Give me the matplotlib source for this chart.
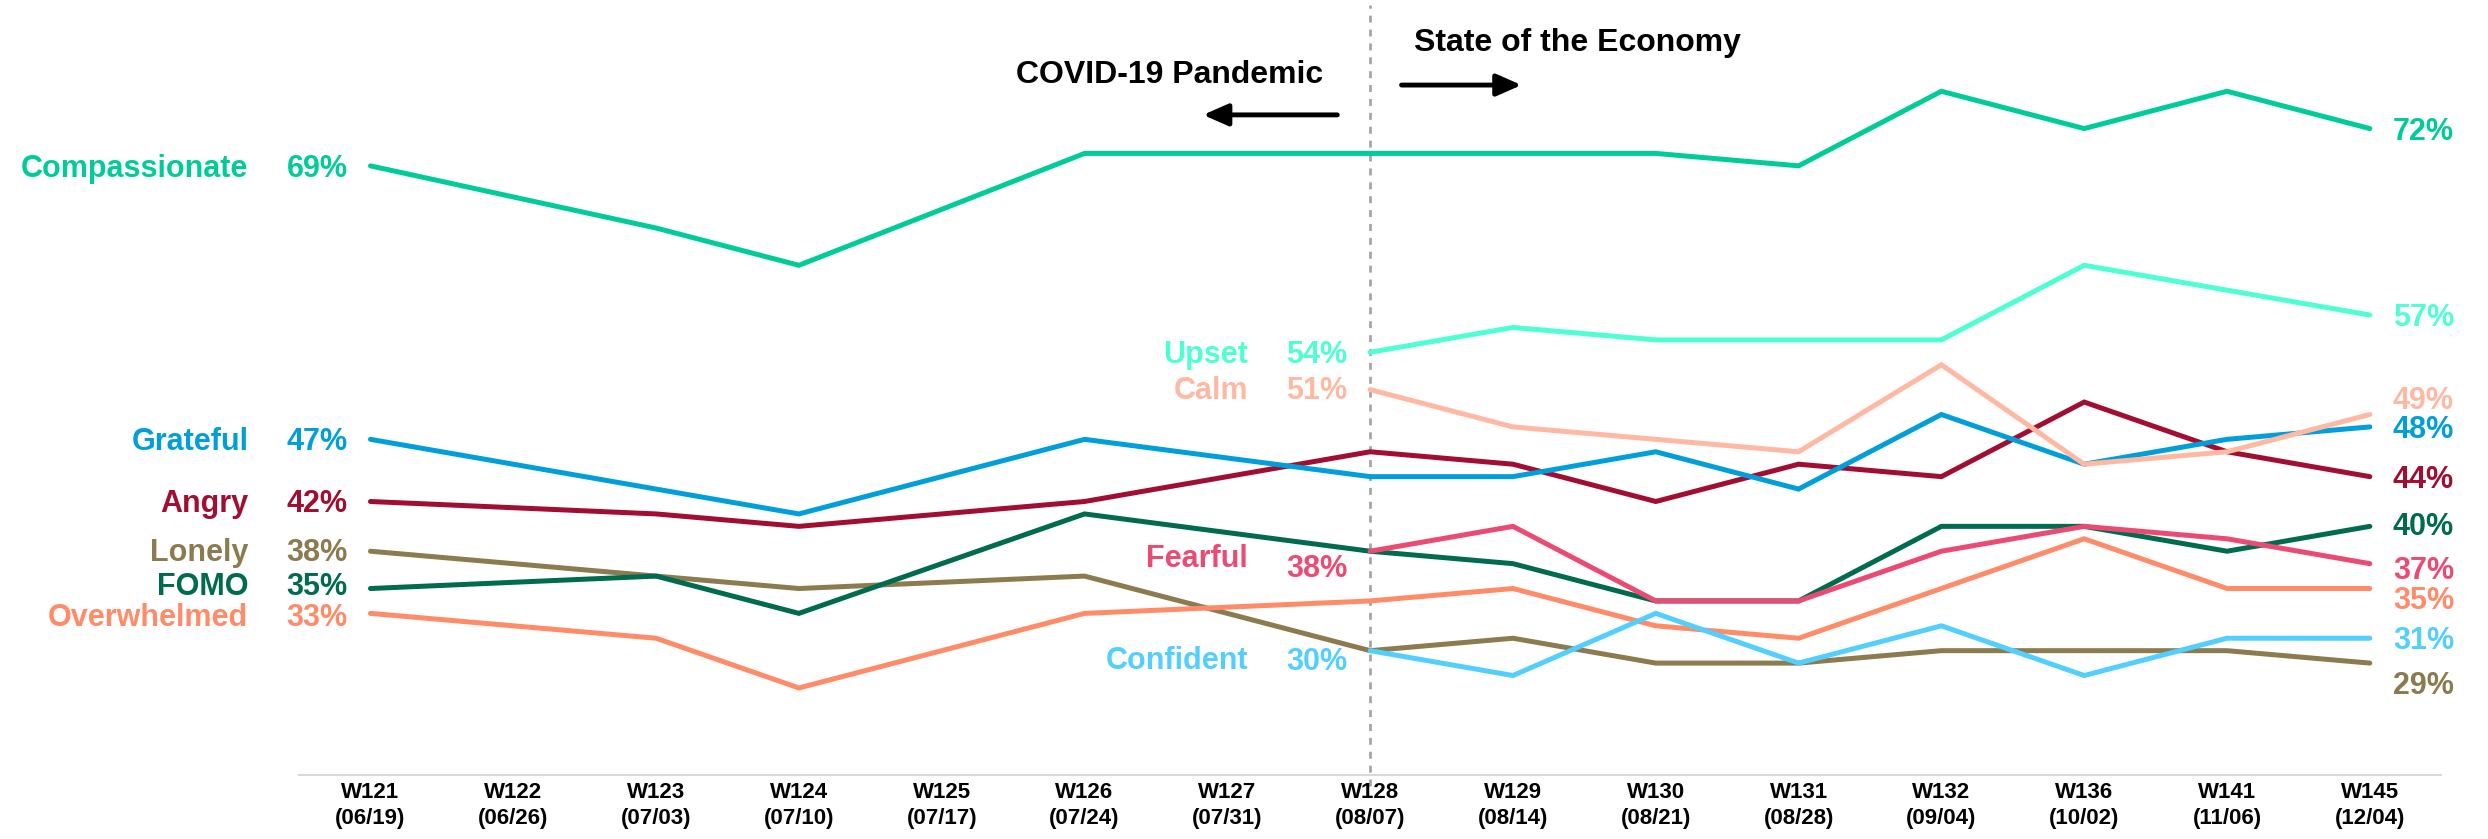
import numpy as np
import matplotlib
matplotlib.use("Agg")
import matplotlib.pyplot as plt

plt.rcParams['font.family'] = ['Liberation Sans', 'DejaVu Sans']

# weeks on the x axis
weeks = ["W121", "W122", "W123", "W124", "W125", "W126", "W127", "W128",
         "W129", "W130", "W131", "W132", "W136", "W141", "W145"]
dates = ["06/19", "06/26", "07/03", "07/10", "07/17", "07/24", "07/31", "08/07",
         "08/14", "08/21", "08/28", "09/04", "10/02", "11/06", "12/04"]

# share of respondents (%), None = not asked that week
angry = [42, None, 41, 40, None, 42, None, 46, 45, 42, 45, 44, 50, 46, 44]
lonely = [38, None, 36, 35, None, 36, None, 30, 31, 29, 29, 30, 30, 30, 29]
fomo = [35, None, 36, 33, None, 41, None, 38, 37, 34, 34, 40, 40, 38, 40]
grateful = [47, None, None, 41, None, 47, None, 44, 44, 46, 43, 49, 45, 47, 48]
overwhelmed = [33, None, 31, 27, None, 33, None, 34, 35, 32, 31, 35, 39, 35, 35]
fearful = [None] * 7 + [38, 40, 34, 34, 38, 40, 39, 37]
confident = [None] * 7 + [30, 28, 33, 29, 32, 28, 31, 31]
calm = [None] * 7 + [51, 48, 47, 46, 53, 45, 46, 49]
upset = [None] * 7 + [54, 56, 55, 55, 55, 61, 59, 57]
compassionate = [69, None, 64, 61, None, 70, None, 70, 70, 70, 69, 75, 72, 75, 72]

# name, values, colour, (name dy, start pct dy, end pct dy) in pixels
series = [
    ("Angry", angry, "#A20D32", (0, 0, 0)),
    ("Lonely", lonely, "#8B7B4F", (1, 1, -20)),
    ("FOMO", fomo, "#006B4F", (5, 5, 2)),
    ("Grateful", grateful, "#009FDB", (0, 0, 0)),
    ("Overwhelmed", overwhelmed, "#FF8B69", (-2, -2, -9)),
    ("Fearful", fearful, "#EB4B72", (-5, -15, -4)),
    ("Confident", confident, "#52CFFF", (-7, -8, 0)),
    ("Calm", calm, "#FFB9A3", (2, 2, 16)),
    ("Upset", upset, "#4DFFD2", (0, 0, 0)),
    ("Compassionate", compassionate, "#00CC99", (0, 0, 0)),
]

fig = plt.figure(figsize=(24.88, 8.39), dpi=100)
ax = fig.add_axes([0.1202, 0.0763, 0.861, 0.889])

for name, vals, color, (dn, dp, de) in series:
    xs = [i for i, v in enumerate(vals) if v is not None]
    ys = [vals[i] for i in xs]
    ax.plot(xs, ys, color=color, lw=3.6, solid_capstyle='round', solid_joinstyle='miter')
    kw = dict(textcoords='offset pixels', color=color, fontsize=22,
              fontweight='bold', va='center', annotation_clip=False)
    ax.annotate(name, (xs[0], ys[0]), xytext=(-122, dn - 3), ha='right', **kw)
    ax.annotate(f"{ys[0]}%", (xs[0], ys[0]), xytext=(-23, dp - 3), ha='right', **kw)
    ax.annotate(f"{ys[-1]}%", (xs[-1], ys[-1]), xytext=(23, de - 3), ha='left', **kw)

# divider between the two survey focuses
ax.plot([7, 7], [19.1, 81.9], color="#A6A6A6", lw=2, ls=(0, (2.5, 2.5)), clip_on=False, zorder=0)

ax.text(6.67, 76.3, "COVID-19 Pandemic", ha='right', va='center', fontsize=23, fontweight='bold')
ax.text(7.31, 78.9, "State of the Economy", ha='left', va='center', fontsize=23, fontweight='bold')
arrow = dict(arrowstyle='-|>,head_length=0.5,head_width=0.22', color='black', lw=3.5,
             mutation_scale=30, shrinkA=0, shrinkB=0)
ax.annotate("", xy=(5.83, 73.1), xytext=(6.77, 73.1), arrowprops=arrow)
ax.annotate("", xy=(8.06, 75.5), xytext=(7.22, 75.5), arrowprops=arrow)

ax.set_xlim(-0.5, 14.5)
ax.set_ylim(20, 80)
ax.set_xticks(range(len(weeks)))
ax.set_xticklabels([f"{w}\n({d})" for w, d in zip(weeks, dates)], fontsize=16,
                   fontweight='bold', linespacing=1.3)
ax.tick_params(axis='x', length=0, pad=5)
ax.set_yticks([])
for s in ['top', 'left', 'right']:
    ax.spines[s].set_visible(False)
ax.spines['bottom'].set_color("#D9D9D9")
ax.spines['bottom'].set_linewidth(1.5)

fig.savefig("out.png", dpi=100)
